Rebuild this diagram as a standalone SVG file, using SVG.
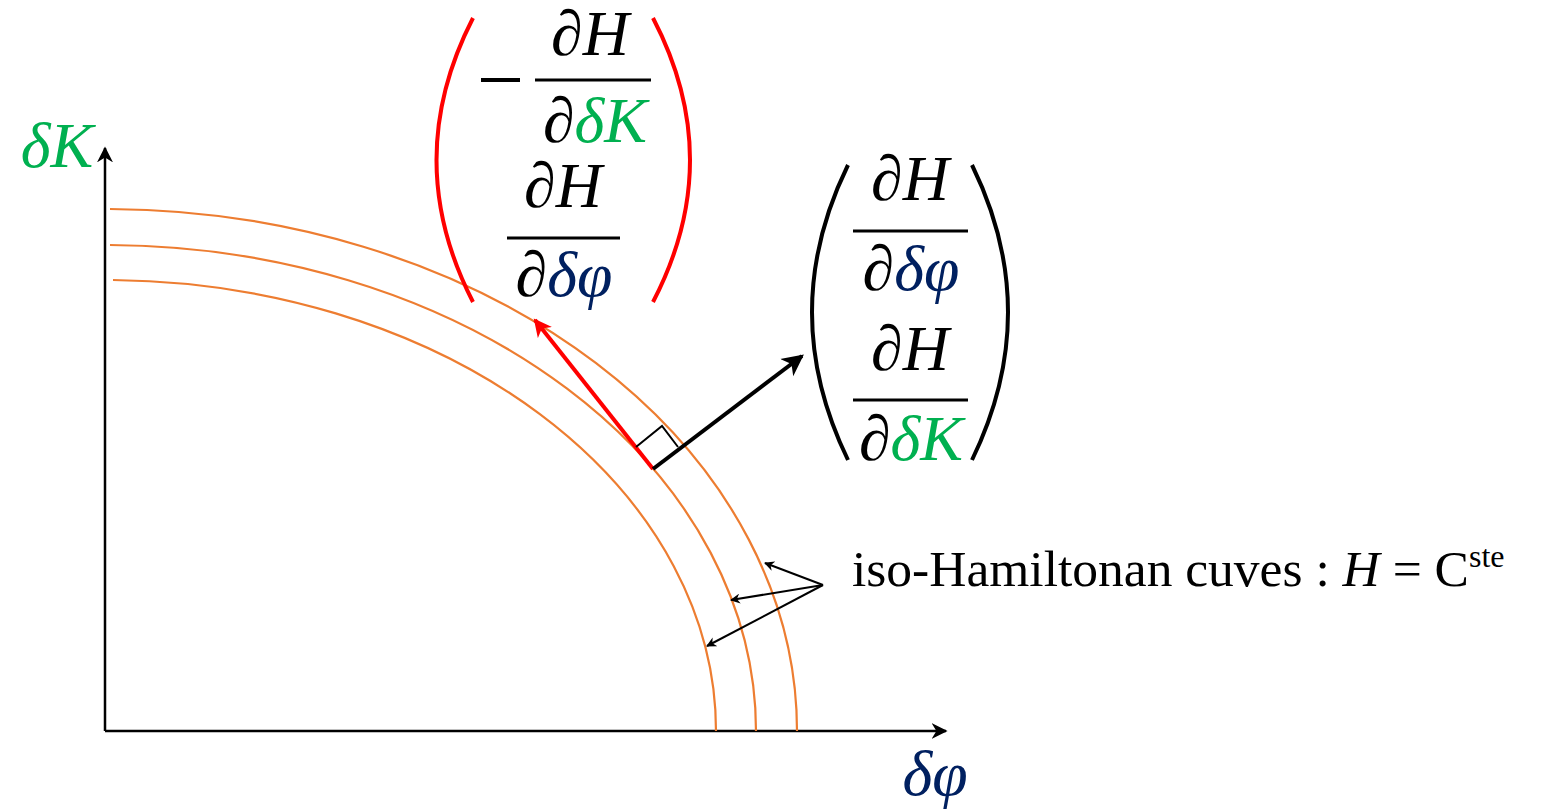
<svg xmlns="http://www.w3.org/2000/svg" width="1559" height="811" viewBox="0 0 1559 811">
<style>
.m{font-family:"Liberation Serif","DejaVu Serif",serif;font-style:italic;font-size:64px;text-anchor:middle}
.t{font-family:"Liberation Serif","Times New Roman",serif;font-size:51.5px}
.curve{fill:none;stroke:#ED7D31;stroke-width:2.2}
.g{fill:#00B050}.b{fill:#002060}
</style>
<defs>
<marker id="ah" viewBox="0 0 10 10" refX="9" refY="5" markerWidth="10" markerHeight="10" markerUnits="userSpaceOnUse" orient="auto"><path d="M0,0 L10,5 L0,10 L3,5 Z" fill="#000"/></marker>
<marker id="axh" viewBox="0 0 10 10" refX="9" refY="5" markerWidth="16" markerHeight="16" markerUnits="userSpaceOnUse" orient="auto"><path d="M0,0 L10,5 L0,10 L3,5 Z" fill="#000"/></marker>
<marker id="vh" viewBox="0 0 10 10" refX="8" refY="5" markerWidth="6" markerHeight="6" orient="auto"><path d="M0,0.5 L9,5 L0,9.5 L2.5,5 Z" fill="#000"/></marker>
<marker id="rh" viewBox="0 0 10 10" refX="8" refY="5" markerWidth="5" markerHeight="5" orient="auto"><path d="M0,0.5 L9,5 L0,9.5 L2.5,5 Z" fill="#FF0000"/></marker>
</defs>

<g id="axes">
<line x1="105" y1="731" x2="105" y2="148" stroke="#000" stroke-width="2.5" marker-end="url(#axh)"/>
<line x1="105" y1="731" x2="946" y2="731" stroke="#000" stroke-width="2.5" marker-end="url(#axh)"/>
<text class="m g" x="57" y="167" font-size="63">δK</text>
<text class="m b" x="935" y="795" font-size="63">δφ</text>
</g>

<g id="curves">
<path class="curve" d="M110,209 A692,522 0 0 1 797,731"/>
<path class="curve" d="M110,245 A651,486 0 0 1 756,731"/>
<path class="curve" d="M113,280 A611,451 0 0 1 716,731"/>
</g>

<g id="connectors">
<line x1="653" y1="469" x2="535" y2="320" stroke="#FF0000" stroke-width="4" marker-end="url(#rh)"/>
<line x1="653" y1="469" x2="802" y2="356" stroke="#000" stroke-width="4" marker-end="url(#vh)"/>
<polyline points="636,447 662,426 678,447" fill="none" stroke="#000" stroke-width="2"/>
<line x1="823" y1="585" x2="765" y2="563" stroke="#000" stroke-width="2" marker-end="url(#ah)"/>
<line x1="823" y1="585" x2="731" y2="600" stroke="#000" stroke-width="2" marker-end="url(#ah)"/>
<line x1="823" y1="585" x2="707" y2="646" stroke="#000" stroke-width="2" marker-end="url(#ah)"/>
</g>

<g id="red-vector">
<path d="M473,18 Q400,160 473,302" fill="none" stroke="#FF0000" stroke-width="4"/>
<path d="M653,18 Q727,160 653,302" fill="none" stroke="#FF0000" stroke-width="4"/>
<line x1="481" y1="80" x2="520" y2="80" stroke="#000" stroke-width="4"/>
<line x1="535" y1="80" x2="651" y2="80" stroke="#000" stroke-width="3"/>
<text class="m" x="590" y="55" font-size="61">∂H</text>
<text class="m" x="595" y="142">∂<tspan class="g">δK</tspan></text>
<line x1="507" y1="238" x2="620" y2="238" stroke="#000" stroke-width="3"/>
<text class="m" x="563" y="207">∂H</text>
<text class="m" x="564" y="296">∂<tspan class="b">δφ</tspan></text>
</g>

<g id="black-vector">
<path d="M848,165 Q776,312 848,460" fill="none" stroke="#000" stroke-width="4"/>
<path d="M972,165 Q1044,312 972,460" fill="none" stroke="#000" stroke-width="4"/>
<text class="m" x="910" y="200">∂H</text>
<line x1="853" y1="231" x2="968" y2="231" stroke="#000" stroke-width="3"/>
<text class="m" x="911" y="290">∂<tspan class="b">δφ</tspan></text>
<text class="m" x="910" y="370">∂H</text>
<line x1="853" y1="400" x2="968" y2="400" stroke="#000" stroke-width="3"/>
<text class="m" x="911" y="460">∂<tspan class="g">δK</tspan></text>
</g>

<g id="label">
<text class="t" x="852" y="586">iso-Hamiltonan cuves : <tspan font-style="italic">H</tspan> = C<tspan font-size="32" dy="-19">ste</tspan></text>
</g>
</svg>
